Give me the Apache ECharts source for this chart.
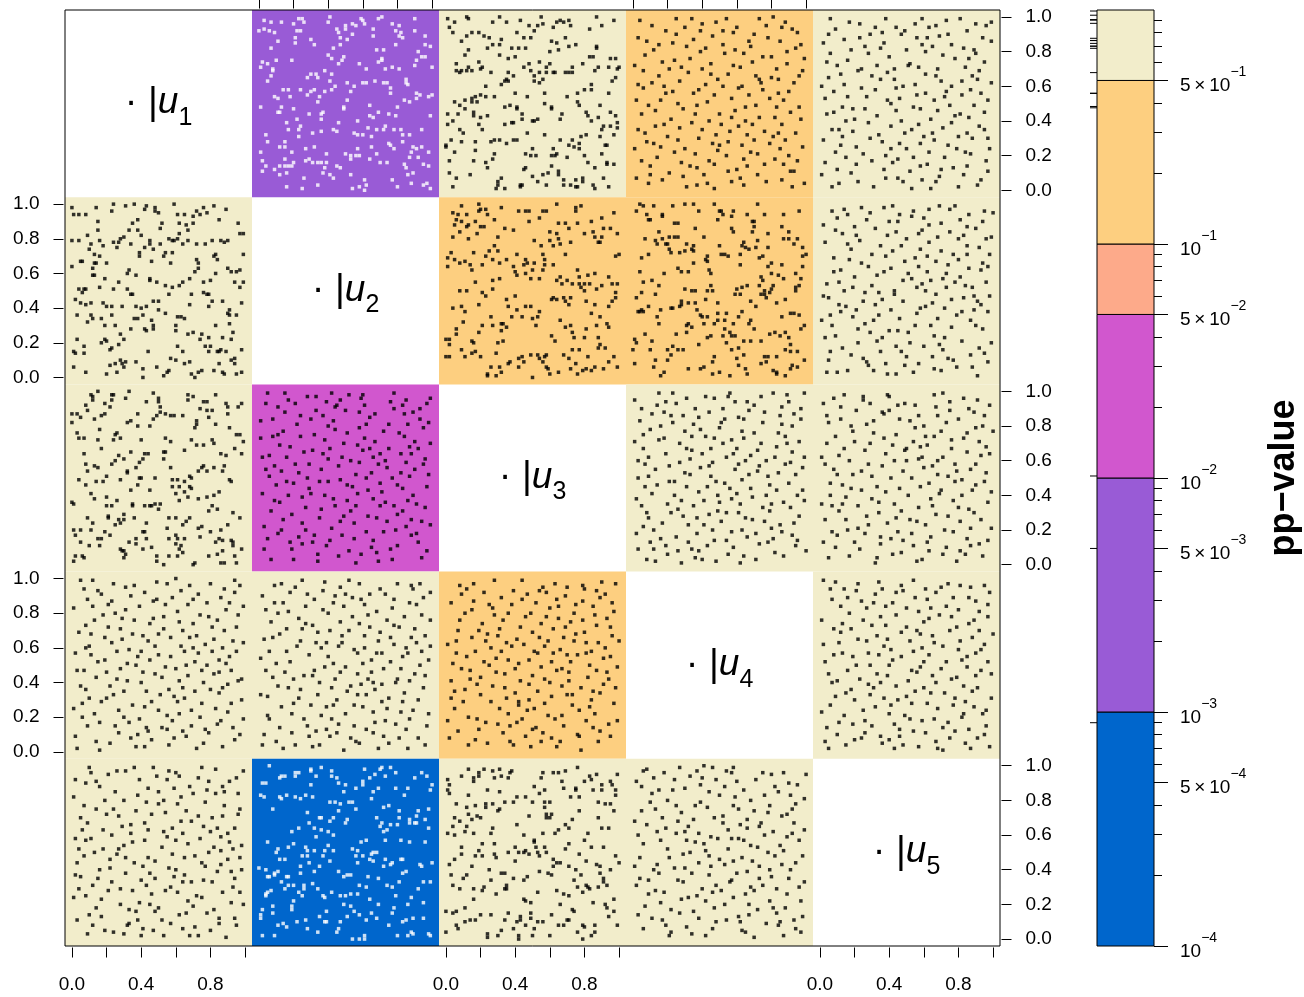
<!DOCTYPE html>
<html>
<head>
<meta charset="utf-8">
<script src="https://cdn.jsdelivr.net/npm/echarts@6/dist/echarts.min.js"></script>
<style>
  html, body { margin: 0; padding: 0; background: #ffffff; }
  #chart { width: 1304px; height: 997px; }
</style>
</head>
<body>
<div id="chart"></div>
<script>
// ---- data -----------------------------------------------------------------
const varIndex = ['1', '2', '3', '4', '5'];

// p-value of the test shown in each off-diagonal panel (row i, column j)
const pValues = [
  [null,   0.0050,  0.99,  0.441, 0.95 ],
  [0.91,   null,    0.387, 0.44,  0.877],
  [0.757,  0.0102,  null,  0.74,  0.72 ],
  [0.70,   0.686,   0.382, null,  0.54 ],
  [0.741,  0.00090, 0.701, 0.905, null ]
];

// colour classes of the p-value scale
const breaks = [1e-4, 1e-3, 1e-2, 5e-2, 1e-1, 5e-1, 1];
const bandColors = ['#0066CC', '#995BD6', '#D157CE', '#FDAA8A', '#FDCF80', '#F2EDCB'];

const panelTicks = [0, 0.2, 0.4, 0.6, 0.8, 1.0];
const sideLabels = [0, 0.2, 0.4, 0.6, 0.8, 1.0];
const bottomLabels = [0, 0.4, 0.8];
const scaleMajor = [1e-4, 5e-4, 1e-3, 5e-3, 1e-2, 5e-2, 1e-1, 5e-1];
const scaleMinor = [2e-4, 3e-4, 4e-4, 6e-4, 7e-4, 8e-4, 9e-4,
                    2e-3, 3e-3, 4e-3, 6e-3, 7e-3, 8e-3, 9e-3,
                    2e-2, 3e-2, 4e-2, 6e-2, 7e-2, 8e-2, 9e-2,
                    2e-1, 3e-1, 4e-1, 6e-1, 7e-1, 8e-1, 9e-1];

// pseudo-observations per panel, in hundredths: x0,y0, x1,y1, ...
const pts12 = [3,98, 7,97, 13,97, 20,96, 23,99, 25,99, 26,97, 41,100, 40,97, 59,99, 60,98, 61,96, 69,99, 71,100, 90,99, 77,96, 81,95, 50,95, 54,96, 56,95, 45,93, 50,93, 66,93, 0,92, 3,93, 6,92, 9,91, 22,92, 24,92, 46,91, 54,90, 47,88, 51,87, 21,88, 21,85, 30,87, 32,84, 11,86, 7,82, 66,89, 79,92, 82,91, 81,89, 83,88, 90,92, 96,89, 79,84, 96,84, 99,83, 68,81, 72,81, 92,80, 94,77, 96,77, 91,75, 43,82, 47,84, 40,78, 42,76, 49,77, 48,75, 46,73, 2,74, 5,73, 10,75, 19,75, 1,71, 8,70, 8,69, 7,66, 5,63, 58,73, 62,70, 69,74, 71,76, 71,75, 73,70, 77,71, 81,70, 90,72, 100,71, 30,67, 33,67, 28,65, 34,65, 38,69, 42,67, 41,63, 44,60, 51,62, 55,60, 60,62, 62,62, 67,63, 72,62, 74,62, 76,59, 85,64, 85,62, 86,61, 14,58, 17,58, 24,58, 30,57, 32,58, 38,57, 42,58, 9,54, 11,53, 18,54, 28,55, 35,54, 34,51, 51,52, 53,57, 76,56, 91,56, 93,55, 91,53, 84,52, 87,51, 100,55, 98,54, 1,48, 13,48, 20,47, 12,45, 11,45, 29,44, 36,44, 37,45, 49,48, 49,47, 64,49, 64,43, 66,42, 69,45, 75,44, 79,43, 80,48, 99,43, 22,41, 36,41, 46,39, 57,40, 16,39, 24,37, 17,35, 23,35, 23,31, 31,33, 36,34, 43,35, 45,34, 55,33, 57,32, 60,32, 63,36, 68,35, 73,37, 72,35, 78,35, 82,35, 83,32, 87,32, 94,35, 65,31, 4,32, 5,28, 12,25, 15,28, 15,25, 19,22, 27,24, 32,25, 39,21, 50,21, 53,20, 53,18, 56,20, 58,20, 57,24, 65,25, 68,21, 64,18, 75,27, 76,26, 78,24, 83,28, 89,25, 91,24, 94,25, 88,22, 98,22, 1,22, 2,17, 4,14, 2,11, 9,12, 12,14, 15,18, 15,14, 17,14, 19,14, 16,10, 12,9, 20,16, 27,17, 29,18, 31,16, 34,16, 36,16, 39,16, 38,13, 45,14, 47,13, 37,10, 41,9, 43,7, 53,9, 61,6, 62,3, 61,0, 58,2, 54,1, 34,3, 26,7, 25,1, 16,2, 70,16, 74,16, 77,6, 80,2, 84,15, 85,13, 86,9, 89,10, 88,4, 95,3, 97,4, 99,1, 95,15, 98,14, 87,19, 92,19];
const pts13 = [1,99, 5,97, 2,94, 4,91, 12,100, 13,99, 9,86, 12,89, 15,91, 19,91, 22,89, 25,88, 27,84, 24,82, 31,84, 32,87, 27,97, 31,100, 35,97, 43,98, 48,95, 53,95, 56,96, 55,100, 51,92, 41,91, 45,88, 49,88, 38,82, 42,82, 46,82, 62,94, 64,97, 66,98, 68,97, 71,98, 72,95, 69,88, 61,86, 64,85, 71,83, 75,84, 83,93, 87,100, 90,95, 97,98, 87,83, 87,82, 13,81, 11,78, 6,73, 6,69, 8,68, 9,69, 12,69, 15,69, 13,71, 19,74, 20,70, 21,71, 26,68, 31,78, 36,76, 40,77, 36,68, 39,66, 35,64, 34,63, 36,63, 32,61, 23,60, 45,71, 48,73, 49,69, 51,66, 54,74, 54,68, 58,68, 60,73, 58,71, 60,80, 65,81, 62,68, 63,68, 69,68, 71,68, 73,68, 73,71, 79,73, 83,77, 85,77, 88,71, 86,69, 94,71, 95,76, 98,76, 99,70, 100,71, 98,65, 96,63, 84,61, 84,58, 80,58, 76,56, 94,56, 51,63, 56,64, 54,62, 57,56, 47,54, 40,56, 28,54, 23,54, 20,55, 17,54, 18,51, 15,53, 15,51, 11,52, 8,49, 5,51, 11,47, 1,44, 7,44, 16,45, 16,43, 20,42, 24,43, 19,38, 21,35, 8,35, 10,33, 1,38, 4,40, 34,48, 37,49, 41,48, 41,47, 44,44, 44,41, 50,40, 51,40, 53,41, 38,39, 39,39, 34,38, 57,50, 61,47, 61,48, 67,44, 66,41, 70,54, 76,51, 77,49, 81,45, 82,43, 84,40, 88,42, 89,49, 95,45, 98,43, 99,39, 99,36, 95,37, 91,37, 90,35, 81,32, 89,31, 97,32, 47,33, 57,32, 31,29, 39,29, 41,29, 35,27, 28,29, 26,28, 28,21, 27,18, 23,16, 24,13, 17,28, 17,23, 16,17, 14,9, 9,28, 3,29, 0,26, 0,25, 5,22, 2,17, 2,10, 6,7, 4,2, 30,5, 30,3, 29,1, 34,1, 32,7, 43,3, 43,2, 44,3, 45,12, 46,13, 46,21, 49,20, 52,20, 50,24, 50,8, 53,5, 56,9, 59,10, 58,3, 65,9, 68,6, 68,3, 72,3, 75,6, 75,2, 76,2, 79,5, 79,7, 85,3, 86,1, 94,2, 91,7, 93,16, 93,15, 97,15, 86,13, 82,16, 80,20, 90,21, 92,26, 93,26, 78,31, 77,27, 77,24, 73,29, 74,25, 71,26, 70,19, 66,29, 62,24, 64,21, 61,20, 63,20, 61,14, 65,11];
const pts14 = [58,91, 13,37, 84,64, 29,8, 71,49, 42,82, 95,17, 6,59, 50,26, 77,95, 21,70, 64,3, 36,44, 89,80, 10,14, 55,67, 97,41, 25,99, 68,22, 3,88, 47,55, 81,31, 33,76, 60,12, 16,52, 92,93, 40,35, 74,62, 8,28, 52,84, 86,6, 27,63, 65,40, 1,72, 44,17, 99,76, 19,92, 70,29, 38,58, 83,48, 12,81, 57,5, 30,24, 90,57, 48,97, 5,44, 76,15, 23,85, 62,71, 41,9, 94,33, 15,66, 67,86, 34,39, 80,77, 54,20, 2,7, 87,52, 45,73, 20,31, 73,99, 59,46, 11,95, 96,66, 37,13, 26,50, 85,24, 63,60, 7,78, 51,38, 78,88, 31,2, 93,11, 18,60, 69,74, 46,27, 3,35, 82,42, 39,92, 57,53, 14,19, 88,97, 66,32, 24,75, 99,4, 49,64, 9,49, 72,9, 35,87, 61,37, 83,70, 28,16, 53,79, 91,45, 17,6, 43,51, 75,58, 4,98, 64,18, 32,68, 97,84, 22,41, 56,34, 87,15, 12,27, 40,96, 79,53, 47,1, 68,83, 26,29, 93,62, 6,69, 50,44, 84,33, 36,21, 60,94, 15,84, 73,42, 42,61, 98,25, 29,47, 55,11, 89,73, 9,4, 71,66, 38,30, 81,100, 19,56, 63,26, 46,89, 2,52, 86,38, 33,14, 58,72, 95,91, 24,22, 67,55, 11,62, 44,40, 77,5, 30,94, 52,60, 90,20, 5,17, 75,77, 37,49, 62,7, 17,74, 84,56, 48,32, 21,10, 70,90, 40,70, 96,48, 54,99, 27,36, 66,14, 8,86, 79,27, 35,56, 59,81, 92,2, 13,46, 49,23, 73,64, 31,83, 86,94, 1,24, 57,42, 23,57, 82,18, 43,4, 65,48, 98,69, 18,38, 52,92, 76,34, 10,9, 39,80, 61,59, 88,29, 28,71, 47,15, 94,82, 7,33, 69,38, 34,99, 55,28, 80,65, 16,25, 45,67, 91,11, 25,90, 64,79, 3,61, 72,21, 37,3, 85,86];
const pts15 = [32,58, 87,21, 9,93, 64,41, 45,7, 78,76, 19,34, 56,88, 97,52, 3,16, 70,63, 38,99, 26,47, 83,9, 51,72, 14,61, 92,37, 41,24, 67,95, 6,79, 58,14, 75,49, 22,5, 99,86, 47,40, 35,82, 88,66, 12,26, 61,56, 80,31, 29,90, 53,1, 95,74, 4,44, 72,19, 43,64, 17,97, 66,29, 85,92, 37,12, 8,57, 59,84, 91,3, 24,70, 49,33, 76,60, 2,85, 69,8, 33,43, 96,17, 55,96, 13,48, 82,55, 40,77, 63,22, 21,15, 89,81, 46,53, 7,35, 74,90, 30,66, 57,38, 99,62, 18,81, 68,46, 36,28, 52,11, 86,42, 10,72, 44,94, 79,24, 27,54, 61,67, 93,6, 1,9, 65,83, 39,52, 84,71, 15,40, 54,19, 73,98, 31,2, 97,30, 48,60, 23,88, 71,36, 5,65, 58,47, 90,96, 42,16, 77,13, 16,75, 62,88, 34,32, 87,58, 11,4, 50,81, 25,21, 95,45, 68,70, 3,53, 44,46, 81,99, 28,79, 60,31, 9,22, 73,57, 38,7, 92,69, 20,41, 55,61, 85,14, 47,90, 14,87, 67,5, 35,64, 98,24, 6,99, 76,39, 29,30, 52,73, 83,82, 41,50, 18,10, 63,94, 89,49, 12,67, 58,27, 71,78, 2,29, 45,18, 94,88, 24,59, 80,2, 37,85, 66,52, 8,45, 53,35, 91,64, 32,94, 74,26, 16,54, 59,6, 86,76, 43,70, 21,25, 97,11, 65,33, 4,74, 49,92, 78,43, 30,17, 56,55, 11,35, 88,30, 39,68, 70,12, 23,96, 61,80, 93,56, 7,2, 46,27, 82,63, 26,83, 54,48, 99,97, 15,19, 69,89, 41,37, 84,22, 33,72, 1,60, 62,15, 76,84, 19,47, 48,5, 95,35, 36,91, 57,71, 10,12, 72,54, 28,39, 90,79, 44,59, 64,1, 5,90, 81,44, 50,24, 22,69, 67,66, 38,20, 96,95, 13,31, 59,99, 85,33];
const pts21 = [0,98, 14,98, 24,100, 23,96, 31,99, 36,100, 43,99, 42,97, 48,98, 48,96, 50,95, 59,100, 72,96, 76,98, 82,99, 89,97, 74,94, 78,95, 61,94, 65,94, 70,93, 1,94, 4,94, 8,94, 15,90, 38,91, 35,89, 52,89, 51,86, 62,89, 66,88, 70,89, 67,85, 85,91, 96,89, 15,85, 33,85, 38,85, 62,83, 99,83, 97,83, 9,82, 40,82, 0,79, 4,79, 11,77, 16,79, 18,76, 24,78, 27,78, 28,80, 30,81, 34,77, 45,79, 51,77, 56,80, 58,79, 59,79, 61,80, 64,77, 67,79, 72,77, 77,77, 81,79, 86,79, 88,78, 90,79, 10,74, 26,75, 42,75, 45,77, 47,74, 39,72, 39,70, 53,70, 54,72, 58,72, 13,71, 16,70, 83,71, 84,68, 82,70, 99,71, 72,68, 73,66, 73,63, 71,61, 5,67, 6,67, 14,66, 13,66, 20,66, 12,63, 46,67, 57,66, 0,64, 32,60, 33,62, 37,59, 12,59, 13,59, 19,57, 83,60, 90,63, 92,61, 95,61, 97,62, 45,57, 45,56, 49,55, 54,53, 58,52, 62,53, 64,55, 68,57, 76,55, 80,56, 94,55, 99,55, 97,52, 27,55, 16,52, 4,51, 7,51, 8,51, 6,49, 24,51, 32,51, 35,48, 34,48, 56,48, 69,48, 76,49, 78,48, 79,48, 2,45, 5,43, 8,42, 11,43, 18,43, 20,41, 23,41, 29,41, 37,41, 40,40, 43,41, 47,44, 50,44, 50,39, 54,37, 68,42, 79,41, 81,44, 87,44, 91,39, 98,43, 41,36, 36,34, 38,34, 3,36, 11,36, 12,34, 17,34, 23,36, 9,32, 19,30, 25,30, 46,33, 47,30, 47,28, 61,35, 63,35, 65,34, 60,30, 60,27, 83,30, 91,36, 95,36, 91,31, 90,37, 34,28, 42,28, 43,27, 67,25, 70,26, 75,25, 93,26, 28,25, 30,22, 3,22, 17,20, 19,22, 20,21, 23,17, 22,16, 27,19, 7,18, 7,14, 1,15, 2,14, 44,15, 61,18, 64,15, 74,22, 79,23, 77,18, 80,18, 87,23, 92,22, 79,15, 84,15, 85,15, 86,16, 89,15, 98,16, 57,11, 60,10, 65,8, 68,9, 28,10, 29,8, 31,9, 25,8, 37,9, 22,7, 30,6, 41,5, 49,6, 1,6, 8,3, 20,2, 26,3, 41,0, 53,1, 55,3, 56,4, 69,2, 71,0, 73,3, 75,4, 82,4, 85,8, 87,3, 88,2, 92,10, 94,11, 94,8, 95,2, 98,3];
const pts23 = [9,99, 19,100, 19,96, 20,97, 23,97, 4,95, 7,94, 12,94, 6,91, 5,88, 9,90, 12,87, 13,88, 17,90, 20,87, 22,87, 24,94, 28,91, 32,98, 4,81, 8,84, 13,80, 18,83, 30,81, 34,86, 39,85, 42,96, 46,96, 48,96, 48,90, 54,92, 56,96, 58,96, 64,100, 75,98, 75,96, 78,99, 90,92, 97,95, 65,89, 69,89, 76,89, 84,90, 71,86, 60,84, 64,83, 80,83, 85,84, 91,86, 95,86, 99,83, 86,81, 90,81, 88,78, 89,78, 72,78, 65,80, 66,77, 60,79, 62,76, 51,79, 55,76, 28,76, 25,73, 30,73, 16,72, 3,72, 1,69, 1,64, 5,68, 8,66, 11,67, 14,65, 15,62, 21,65, 23,70, 27,68, 31,66, 35,68, 39,64, 41,71, 40,61, 41,59, 45,65, 46,68, 47,66, 51,66, 50,62, 46,60, 49,57, 54,57, 56,71, 57,68, 57,65, 62,65, 56,62, 69,71, 76,62, 64,56, 66,58, 67,54, 70,56, 73,54, 77,58, 77,54, 78,52, 80,50, 80,54, 82,59, 83,54, 86,60, 87,51, 90,53, 94,58, 96,54, 99,54, 98,70, 100,71, 98,49, 98,46, 96,44, 94,41, 93,31, 94,29, 89,35, 84,37, 86,42, 81,44, 81,28, 87,30, 80,23, 73,26, 74,23, 72,30, 66,33, 69,29, 71,42, 72,46, 68,46, 62,46, 61,45, 64,45, 69,44, 54,38, 52,30, 50,34, 53,35, 46,41, 49,41, 44,35, 41,39, 40,47, 35,45, 36,41, 38,35, 33,31, 35,29, 32,27, 26,35, 27,30, 21,30, 19,26, 15,21, 16,20, 10,32, 9,41, 11,38, 4,40, 19,42, 8,50, 12,50, 21,49, 23,47, 27,51, 27,56, 31,57, 17,55, 6,28, 6,25, 0,22, 2,22, 2,19, 9,16, 0,12, 2,12, 11,12, 15,14, 17,15, 20,12, 29,14, 30,20, 33,21, 32,31, 26,6, 24,2, 24,1, 29,1, 31,6, 32,3, 36,8, 37,9, 42,11, 42,6, 44,12, 45,9, 50,0, 49,13, 53,13, 54,11, 56,9, 57,12, 58,13, 58,6, 59,5, 60,2, 65,3, 68,13, 71,11, 73,16, 77,16, 75,8, 72,5, 76,2, 79,4, 81,5, 84,4, 86,6, 91,5, 82,12, 88,17, 89,19, 92,17, 88,23, 94,9, 97,12, 99,6, 61,24, 63,21];
const pts24 = [4,100, 6,99, 12,99, 2,96, 8,94, 9,91, 10,91, 17,94, 17,93, 23,99, 30,100, 35,100, 38,96, 47,100, 50,96, 51,96, 52,94, 57,93, 58,96, 49,91, 66,94, 72,100, 70,90, 76,94, 87,94, 96,96, 86,87, 90,84, 87,80, 90,80, 95,80, 93,77, 98,75, 98,70, 100,71, 98,64, 94,60, 97,57, 96,53, 94,52, 94,50, 88,45, 87,57, 84,59, 86,65, 80,66, 80,60, 78,64, 74,58, 75,56, 73,53, 81,53, 80,51, 79,49, 76,50, 76,48, 77,46, 83,43, 71,41, 68,44, 74,48, 66,53, 63,52, 60,51, 59,48, 62,48, 73,69, 75,70, 78,75, 72,79, 71,75, 67,74, 65,75, 64,78, 63,76, 62,65, 62,71, 69,84, 70,87, 69,90, 78,83, 58,84, 57,86, 50,76, 51,71, 53,71, 55,70, 43,70, 42,68, 43,67, 44,62, 45,60, 45,53, 46,50, 43,50, 49,43, 42,45, 36,50, 34,50, 35,66, 30,51, 28,61, 26,63, 32,61, 30,73, 34,74, 35,73, 27,72, 22,72, 21,74, 20,77, 24,81, 26,81, 21,81, 17,80, 13,79, 14,77, 19,77, 15,84, 24,89, 26,89, 36,86, 41,81, 31,77, 35,76, 9,71, 5,69, 7,80, 4,61, 2,46, 5,49, 6,55, 11,56, 13,48, 15,53, 18,60, 9,41, 4,38, 5,39, 3,38, 6,38, 16,39, 22,40, 23,40, 27,41, 28,42, 28,44, 32,43, 36,43, 37,39, 39,36, 40,35, 41,31, 43,35, 49,37, 49,33, 54,37, 53,33, 58,31, 53,28, 52,24, 54,20, 56,26, 57,24, 61,35, 63,38, 67,31, 68,33, 70,28, 64,21, 68,21, 59,24, 47,31, 45,24, 43,23, 38,19, 32,31, 31,30, 34,29, 31,26, 25,25, 26,16, 29,16, 23,18, 20,16, 22,13, 15,31, 14,35, 11,21, 10,16, 7,25, 1,22, 2,20, 0,16, 1,8, 13,10, 12,6, 16,1, 18,3, 20,10, 32,5, 39,5, 41,6, 46,9, 46,2, 50,3, 56,1, 60,11, 61,7, 65,5, 66,2, 74,8, 77,9, 78,12, 81,4, 83,3, 83,2, 88,1, 91,5, 92,7, 95,6, 99,10, 88,16, 91,15, 95,15, 91,19, 90,23, 85,24, 88,26, 82,26, 97,28, 99,30, 96,36, 91,37, 93,37, 86,35, 83,12, 76,12, 64,13, 61,17, 57,16, 47,12, 79,25, 74,21];
const pts25 = [47,15, 8,69, 91,44, 63,88, 26,31, 79,6, 35,76, 56,52, 14,97, 72,23, 99,81, 41,39, 5,10, 86,63, 20,58, 68,34, 53,93, 31,4, 94,28, 11,42, 77,71, 44,84, 60,18, 2,88, 88,52, 37,61, 75,97, 22,20, 58,40, 16,77, 97,9, 49,67, 82,38, 29,95, 65,12, 7,30, 43,50, 90,86, 33,21, 71,57, 12,62, 54,3, 85,76, 25,44, 62,70, 96,55, 40,90, 18,13, 76,45, 50,80, 4,54, 69,99, 34,36, 92,17, 57,64, 28,7, 81,91, 45,27, 13,83, 67,48, 98,71, 37,98, 21,39, 74,11, 59,85, 9,24, 87,33, 42,73, 64,56, 30,53, 95,96, 16,4, 55,30, 80,68, 3,78, 46,94, 71,16, 24,66, 89,47, 38,8, 61,41, 10,92, 83,82, 51,60, 19,35, 93,62, 66,24, 32,86, 6,15, 78,55, 44,2, 58,74, 97,38, 23,79, 70,89, 36,45, 87,13, 14,50, 52,20, 74,65, 1,33, 63,97, 40,27, 84,53, 27,91, 57,8, 92,75, 17,68, 48,44, 79,36, 10,3, 68,81, 33,59, 99,20, 42,99, 5,46, 76,29, 55,69, 25,11, 86,94, 61,50, 20,87, 46,34, 94,66, 30,71, 70,4, 11,55, 82,21, 39,82, 65,43, 7,96, 53,57, 89,39, 22,28, 60,92, 96,80, 35,15, 73,60, 15,41, 49,7, 85,87, 28,64, 64,30, 3,23, 78,99, 43,48, 91,1, 18,74, 56,37, 75,84, 32,42, 98,47, 9,85, 67,67, 50,12, 24,98, 81,58, 36,23, 94,90, 13,17, 59,54, 72,40, 41,63, 88,6, 19,52, 63,78, 4,3, 45,90, 83,46, 29,26, 97,64, 54,96, 12,38, 69,19, 38,70, 90,30, 26,49, 57,83, 8,61, 77,10, 47,76, 100,95, 31,33, 66,5, 2,47, 85,71, 44,18, 16,94, 73,52, 39,2, 62,61, 93,42, 21,82, 51,26, 80,80, 34,49, 6,36, 70,73, 48,56, 95,14, 27,9];
const pts31 = [11,98, 12,97, 15,100, 12,95, 23,98, 24,98, 23,95, 33,100, 31,96, 19,93, 22,91, 8,92, 9,89, 0,87, 3,87, 5,85, 0,82, 13,84, 17,86, 19,87, 47,99, 50,96, 50,94, 43,94, 51,91, 51,88, 49,86, 47,84, 54,87, 57,86, 59,86, 64,86, 38,87, 34,83, 32,82, 38,80, 45,80, 67,98, 70,97, 67,95, 83,98, 76,94, 78,94, 74,90, 78,89, 81,89, 72,83, 72,81, 71,79, 79,85, 83,81, 90,87, 89,93, 90,91, 96,91, 98,93, 91,79, 16,78, 3,76, 4,73, 7,73, 26,76, 25,75, 28,73, 24,72, 15,72, 40,72, 54,73, 57,71, 69,72, 72,69, 76,69, 81,72, 82,70, 95,75, 97,75, 99,71, 17,67, 7,64, 27,63, 30,61, 34,65, 42,64, 44,64, 53,65, 54,65, 65,66, 53,61, 41,61, 86,64, 89,63, 94,67, 98,64, 8,58, 13,57, 15,56, 23,58, 25,60, 39,59, 37,56, 32,54, 32,53, 9,54, 57,56, 73,54, 75,56, 76,57, 78,54, 82,56, 87,54, 88,57, 4,49, 8,46, 14,48, 18,48, 20,51, 28,49, 39,50, 40,50, 48,50, 58,49, 61,49, 65,48, 68,51, 69,50, 91,49, 92,48, 38,46, 34,43, 45,43, 58,45, 62,45, 65,42, 68,45, 69,44, 11,41, 13,38, 20,39, 26,37, 35,34, 35,35, 42,34, 45,34, 46,34, 48,35, 51,35, 50,32, 60,41, 62,37, 67,39, 73,38, 78,39, 82,40, 85,42, 0,36, 1,35, 20,34, 23,34, 30,29, 21,28, 21,27, 9,27, 12,24, 27,26, 28,24, 30,26, 25,23, 36,27, 43,24, 56,27, 60,27, 66,25, 68,27, 64,23, 79,31, 81,34, 84,32, 93,30, 97,27, 90,23, 1,20, 5,20, 2,17, 11,20, 19,19, 22,17, 5,13, 10,11, 15,15, 17,15, 16,11, 28,9, 30,8, 29,8, 31,6, 33,13, 37,15, 37,12, 41,9, 41,19, 42,19, 43,15, 46,10, 55,21, 56,15, 60,17, 61,15, 65,15, 60,12, 63,11, 62,9, 64,7, 61,5, 73,21, 75,22, 80,19, 86,20, 74,16, 83,13, 85,15, 87,14, 92,14, 93,13, 93,11, 98,9, 94,5, 87,8, 84,6, 79,5, 70,0, 71,1, 86,1, 88,1, 95,1, 49,2, 53,0, 56,5, 49,5, 2,5, 1,2, 6,5, 7,4, 30,4];
const pts32 = [37,86, 72,19, 13,54, 90,71, 51,37, 4,93, 66,62, 25,12, 83,44, 44,78, 97,8, 19,29, 59,96, 31,66, 78,34, 8,74, 55,15, 93,90, 40,48, 69,2, 22,81, 85,59, 47,25, 2,41, 64,85, 34,6, 98,52, 17,95, 75,67, 53,60, 11,18, 88,26, 29,44, 61,73, 42,99, 80,11, 6,63, 70,47, 36,32, 95,79, 15,88, 57,41, 83,92, 27,20, 49,70, 3,9, 74,56, 39,94, 91,35, 21,58, 63,28, 10,46, 86,81, 46,5, 32,75, 78,99, 56,52, 18,68, 99,23, 41,14, 67,87, 7,31, 82,64, 50,89, 25,39, 94,4, 60,66, 14,77, 73,36, 36,55, 88,17, 45,92, 1,83, 65,10, 28,50, 84,74, 53,31, 9,57, 76,94, 42,21, 96,61, 20,3, 58,79, 33,97, 71,42, 12,36, 89,88, 48,62, 23,16, 62,50, 5,99, 80,29, 38,72, 97,45, 16,48, 68,7, 44,34, 87,68, 30,84, 55,24, 75,81, 3,22, 92,13, 40,61, 60,98, 19,9, 82,53, 51,76, 26,65, 99,96, 66,38, 11,91, 35,27, 77,3, 47,49, 86,37, 6,51, 57,69, 31,13, 93,84, 69,58, 17,40, 44,91, 79,20, 24,74, 63,43, 2,62, 90,55, 52,8, 38,40, 72,77, 14,26, 85,95, 48,17, 29,58, 96,33, 58,88, 8,84, 74,25, 41,67, 99,70, 21,93, 65,53, 34,2, 80,46, 12,69, 54,45, 91,18, 43,83, 70,64, 27,33, 5,15, 61,92, 87,51, 16,62, 49,28, 76,9, 33,89, 95,58, 56,34, 20,47, 67,71, 9,37, 84,87, 39,11, 62,19, 28,97, 73,60, 1,73, 46,57, 89,40, 25,24, 59,6, 98,82, 15,99, 68,27, 37,64, 81,76, 51,46, 7,3, 94,25, 43,38, 78,90, 23,53, 64,67, 32,17, 97,93, 11,75, 56,1, 85,22, 40,80, 70,34, 18,13, 52,98, 88,64, 30,41, 62,81, 4,55, 77,50, 47,95, 35,48, 92,67, 13,20, 66,14, 83,31, 24,86, 58,59];
const pts34 = [73,12, 18,88, 45,51, 91,33, 6,67, 59,94, 32,23, 84,76, 27,59, 64,5, 11,41, 97,90, 50,79, 38,8, 79,46, 2,18, 68,63, 23,99, 88,58, 54,30, 15,72, 41,37, 95,14, 61,85, 8,3, 34,66, 76,25, 47,96, 21,48, 86,91, 57,19, 4,83, 69,39, 30,77, 99,62, 43,11, 13,55, 82,7, 52,70, 26,32, 92,80, 36,90, 63,49, 9,27, 74,97, 48,2, 19,64, 87,36, 39,56, 66,16, 1,95, 56,44, 29,86, 80,21, 12,9, 94,52, 42,74, 71,3, 24,40, 60,67, 89,98, 5,34, 51,25, 77,60, 16,15, 35,81, 98,43, 46,59, 67,89, 20,6, 83,68, 31,45, 58,10, 10,78, 72,54, 44,29, 93,24, 25,93, 62,35, 3,50, 85,86, 53,84, 37,18, 78,13, 14,92, 49,40, 96,71, 28,1, 70,76, 7,58, 40,64, 65,27, 22,30, 90,47, 55,97, 33,52, 81,99, 17,24, 61,58, 100,8, 47,14, 75,82, 11,87, 38,42, 86,19, 27,70, 54,62, 2,38, 68,44, 92,65, 19,11, 44,88, 79,31, 6,75, 57,72, 31,96, 73,57, 96,28, 36,4, 63,20, 9,62, 50,36, 84,53, 23,82, 41,23, 88,74, 14,46, 66,94, 32,13, 77,40, 3,9, 59,55, 97,84, 45,67, 20,35, 71,18, 52,90, 87,5, 30,53, 64,73, 8,30, 42,97, 82,62, 16,80, 55,6, 99,37, 35,34, 74,70, 25,16, 60,41, 1,71, 48,48, 90,94, 13,2, 69,26, 39,78, 94,11, 58,64, 21,57, 83,43, 46,20, 5,90, 76,88, 33,61, 62,1, 89,70, 28,37, 51,82, 12,20, 67,52, 43,45, 98,56, 18,73, 80,35, 37,27, 56,99, 7,45, 72,66, 26,8, 93,87, 49,31, 15,99, 64,84, 85,23, 34,74, 3,60, 78,51, 54,14, 24,48, 91,59, 40,3, 61,30, 10,13, 70,92, 47,73, 95,40, 22,86, 57,38, 81,15, 31,67, 86,81, 44,57, 6,22, 65,60, 99,99, 29,28, 53,47, 19,94, 75,33, 38,85, 92,17, 9,51, 63,77, 34,9];
const pts35 = [12,91, 57,33, 84,6, 29,70, 95,48, 3,26, 46,84, 71,62, 20,13, 66,98, 38,42, 90,79, 8,55, 53,18, 77,37, 25,95, 61,74, 99,21, 15,39, 43,60, 86,90, 33,4, 74,51, 5,82, 50,67, 92,12, 27,28, 68,86, 40,97, 81,25, 11,63, 58,45, 96,68, 35,16, 63,8, 19,77, 87,55, 47,31, 2,93, 72,20, 30,51, 55,92, 83,73, 9,10, 44,75, 97,36, 24,43, 65,57, 14,98, 79,2, 51,40, 36,88, 89,30, 6,47, 60,80, 22,21, 75,94, 42,6, 93,63, 17,60, 69,41, 31,83, 85,15, 54,71, 1,35, 78,48, 39,24, 62,13, 26,66, 98,92, 48,54, 10,17, 70,77, 34,36, 88,43, 56,2, 21,89, 80,84, 45,19, 4,70, 67,29, 94,5, 28,58, 59,62, 13,46, 83,96, 37,73, 73,10, 49,93, 7,34, 90,58, 32,1, 64,38, 18,80, 52,26, 100,77, 41,50, 76,67, 23,9, 57,86, 3,58, 87,21, 46,44, 68,52, 15,26, 95,86, 38,64, 61,23, 29,93, 82,40, 9,74, 54,11, 71,99, 43,35, 92,71, 19,52, 66,74, 35,12, 78,58, 5,4, 50,60, 86,32, 27,81, 63,47, 11,31, 97,14, 40,89, 74,28, 58,68, 24,54, 89,88, 47,7, 1,62, 70,43, 33,45, 96,53, 16,20, 55,79, 81,8, 42,69, 8,96, 64,16, 30,38, 91,95, 53,50, 20,71, 77,19, 36,57, 99,42, 12,84, 59,3, 85,65, 26,18, 67,91, 44,27, 6,40, 73,82, 39,98, 93,26, 17,5, 60,56, 31,76, 82,49, 48,14, 2,13, 76,72, 22,34, 94,80, 57,61, 14,67, 65,34, 37,87, 87,11, 52,83, 10,52, 71,6, 28,23, 98,64, 45,92, 80,33, 4,86, 62,69, 34,30, 90,46, 18,44, 56,25, 75,89, 41,15, 7,19, 68,60, 25,97, 85,76, 49,66, 13,35, 79,54];
const pts41 = [7,94, 62,41, 33,17, 88,70, 15,52, 49,88, 76,5, 24,33, 95,58, 41,67, 2,9, 69,24, 55,97, 82,45, 18,79, 37,3, 91,86, 10,61, 64,12, 28,48, 73,91, 46,29, 99,19, 21,72, 57,55, 85,34, 5,38, 39,84, 68,66, 31,95, 94,7, 13,22, 52,43, 79,78, 43,14, 26,58, 61,81, 89,51, 8,73, 71,35, 35,27, 97,96, 48,61, 16,1, 66,50, 84,16, 23,87, 53,71, 3,47, 77,62, 40,40, 92,28, 12,99, 59,8, 29,65, 86,89, 45,53, 74,20, 20,31, 63,93, 98,42, 36,76, 9,15, 56,36, 81,72, 27,11, 67,44, 1,83, 50,24, 87,60, 42,92, 14,43, 72,2, 32,51, 96,79, 58,18, 19,66, 80,97, 47,77, 6,28, 65,58, 38,10, 90,39, 25,80, 54,85, 75,47, 11,56, 61,29, 34,90, 93,14, 44,64, 70,74, 22,5, 85,53, 4,69, 51,33, 78,86, 30,20, 99,63, 17,91, 60,48, 40,58, 83,25, 8,36, 68,96, 26,42, 95,72, 55,13, 13,76, 73,57, 46,7, 89,82, 35,68, 64,37, 2,57, 79,11, 24,97, 57,66, 92,47, 42,26, 16,17, 70,88, 48,45, 87,3, 31,82, 62,22, 9,88, 76,40, 37,50, 98,30, 53,78, 20,46, 66,9, 82,65, 43,35, 5,99, 71,52, 28,71, 94,92, 59,32, 14,6, 49,98, 86,18, 33,59, 74,79, 1,25, 63,61, 39,19, 91,55, 23,63, 56,4, 80,36, 12,84, 45,74, 97,10, 30,35, 67,85, 19,53, 52,14, 84,76, 36,96, 7,47, 75,28, 58,89, 27,24, 93,64, 41,46, 11,68, 69,15, 50,56, 88,94, 22,38, 64,70, 3,2, 78,50, 34,8, 96,41, 47,87, 17,29, 72,67, 55,21, 85,46, 29,77, 60,100, 8,60, 44,12, 90,23, 38,55, 65,31, 15,93, 81,58, 50,68, 25,15, 99,84, 62,75, 32,41, 77,13, 6,20, 54,49, 87,37, 21,85, 42,3, 70,60, 10,31, 94,99];
const pts42 = [14,86, 71,29, 39,63, 92,8, 26,44, 58,97, 83,55, 5,21, 47,75, 66,11, 31,3, 96,67, 18,52, 53,38, 78,88, 9,96, 42,19, 87,41, 61,60, 23,77, 75,5, 34,33, 99,92, 50,49, 12,14, 68,81, 29,56, 89,24, 44,90, 3,65, 63,42, 81,72, 20,28, 56,6, 95,37, 37,82, 8,43, 73,18, 48,63, 25,99, 86,57, 60,26, 16,71, 41,9, 91,85, 32,47, 70,94, 1,33, 54,78, 79,40, 21,4, 65,53, 97,15, 45,30, 11,80, 76,66, 36,21, 88,96, 57,45, 28,91, 6,58, 69,2, 52,70, 93,50, 17,37, 43,86, 82,23, 24,64, 62,13, 38,98, 99,61, 13,26, 74,76, 49,1, 84,34, 31,73, 59,88, 4,47, 67,36, 40,55, 90,71, 19,11, 55,27, 78,62, 35,40, 2,90, 72,48, 46,16, 94,79, 27,84, 61,67, 10,6, 85,13, 43,51, 64,91, 22,61, 51,35, 96,44, 33,12, 80,97, 7,75, 58,74, 75,31, 39,26, 15,46, 87,86, 47,95, 68,57, 26,19, 98,22, 53,8, 18,92, 82,48, 34,69, 63,79, 5,32, 44,42, 91,63, 29,9, 71,39, 57,57, 12,68, 79,16, 37,93, 66,23, 3,10, 49,84, 86,2, 24,36, 60,51, 95,89, 41,70, 16,58, 73,91, 55,15, 30,27, 88,66, 9,86, 65,46, 46,61, 81,8, 20,42, 98,53, 35,4, 70,69, 50,22, 13,97, 77,83, 42,37, 92,30, 27,74, 62,33, 6,19, 84,78, 38,49, 54,89, 1,54, 74,25, 23,31, 96,4, 48,67, 32,88, 67,17, 85,60, 11,38, 58,5, 40,80, 90,45, 17,81, 71,57, 52,99, 28,15, 80,42, 45,11, 8,66, 64,72, 36,60, 99,76, 57,33, 21,95, 76,52, 43,27, 93,97, 14,2, 69,64, 31,44, 87,19, 50,91, 4,82, 59,39, 25,71, 83,29, 39,13, 94,58, 61,85, 19,22, 72,9, 47,46, 10,51, 89,94, 33,63, 66,40, 55,59, 2,4, 78,73];
const pts43 = [9,91, 64,47, 30,16, 87,73, 17,58, 52,86, 77,9, 40,34, 95,55, 24,68, 59,21, 3,41, 70,95, 45,62, 84,30, 13,4, 36,80, 99,18, 55,74, 20,43, 67,38, 89,89, 5,25, 48,53, 74,64, 28,99, 61,8, 93,46, 15,82, 42,27, 81,57, 33,11, 58,92, 7,70, 73,33, 50,44, 97,81, 22,52, 65,77, 37,6, 86,22, 11,36, 54,66, 79,96, 26,29, 68,15, 1,62, 44,88, 91,39, 31,71, 62,57, 18,19, 83,50, 49,3, 75,85, 38,61, 96,67, 12,94, 57,28, 71,41, 25,85, 88,6, 46,78, 4,51, 63,97, 34,45, 80,69, 19,13, 53,35, 92,91, 41,17, 66,59, 8,76, 77,24, 29,54, 98,37, 56,11, 14,47, 85,84, 39,93, 69,72, 2,8, 47,24, 82,43, 23,64, 60,83, 35,31, 94,16, 51,58, 16,97, 72,52, 43,72, 88,63, 27,38, 64,3, 10,29, 79,87, 55,49, 32,89, 97,28, 6,57, 76,10, 48,39, 21,74, 68,66, 90,98, 40,48, 13,20, 59,64, 85,35, 36,22, 74,80, 3,86, 52,14, 95,72, 26,60, 61,32, 44,99, 81,18, 18,39, 70,56, 33,76, 92,60, 57,42, 7,12, 87,93, 42,51, 65,84, 24,5, 99,49, 50,69, 15,66, 78,37, 38,85, 63,19, 29,46, 84,58, 9,48, 54,93, 73,27, 46,9, 96,86, 20,33, 67,48, 35,63, 89,12, 58,78, 1,18, 80,94, 43,41, 11,80, 75,68, 31,25, 94,42, 53,57, 22,92, 66,6, 86,79, 48,30, 5,35, 62,71, 37,15, 100,64, 27,83, 71,46, 17,7, 56,95, 83,26, 41,65, 12,55, 69,90, 34,37, 91,54, 49,80, 78,1, 25,50, 60,40, 8,96, 95,9, 44,19, 72,75, 19,70, 87,47, 51,25, 32,58, 64,88, 3,31, 81,63, 39,4, 57,61, 93,77, 23,17, 70,33, 47,91, 14,42, 85,14, 30,67, 61,52, 98,97, 6,64, 76,56, 42,29, 55,6, 28,79, 89,34, 16,87, 67,21, 36,53, 79,76, 50,13];
const pts45 = [21,93, 76,42, 4,14, 58,68, 37,31, 90,87, 13,57, 67,6, 44,79, 96,24, 29,50, 81,96, 52,19, 8,71, 71,61, 35,9, 99,45, 18,36, 62,88, 47,55, 86,13, 25,76, 55,35, 2,99, 79,72, 40,22, 93,59, 15,4, 65,44, 32,91, 84,29, 10,41, 50,83, 74,17, 27,64, 97,78, 43,2, 60,52, 6,27, 88,66, 38,73, 70,95, 19,16, 56,46, 82,53, 31,37, 95,10, 48,93, 12,84, 68,25, 41,59, 91,37, 24,8, 63,77, 3,52, 77,89, 53,28, 33,67, 87,2, 16,47, 72,34, 46,13, 98,92, 27,83, 59,60, 9,32, 80,82, 39,44, 66,19, 22,97, 92,70, 51,41, 1,76, 75,8, 42,86, 85,49, 14,21, 61,94, 34,56, 95,62, 57,3, 23,42, 89,26, 47,69, 7,88, 69,79, 30,15, 83,38, 54,99, 11,63, 73,52, 40,7, 97,85, 20,30, 64,34, 36,94, 86,74, 49,21, 5,45, 78,12, 28,57, 60,75, 93,47, 17,80, 52,64, 71,1, 44,38, 99,31, 26,11, 67,92, 12,69, 82,20, 38,84, 58,49, 3,6, 90,57, 32,26, 75,70, 21,50, 55,89, 87,95, 43,16, 8,56, 65,67, 96,15, 35,78, 79,43, 14,94, 62,28, 48,4, 28,39, 92,81, 54,58, 1,23, 74,97, 39,65, 84,5, 18,71, 61,11, 45,30, 97,52, 24,87, 70,48, 10,10, 57,81, 33,45, 88,35, 50,72, 6,94, 81,64, 42,53, 68,2, 25,24, 95,96, 15,34, 63,56, 36,5, 77,27, 47,96, 2,62, 86,89, 30,73, 59,18, 91,8, 19,55, 73,84, 41,27, 100,68, 53,47, 11,17, 80,59, 34,98, 67,40, 22,65, 89,76, 46,9, 7,40, 64,83, 29,33, 94,22, 56,70, 16,89, 78,31, 37,61, 5,2, 71,14, 44,92, 85,55, 26,18, 60,37, 13,74, 98,3, 50,32, 31,86, 76,78, 40,50, 90,44, 20,7, 66,63, 9,98, 83,22, 54,12, 35,40];
const pts51 = [16,88, 69,33, 41,6, 94,64, 7,48, 55,92, 82,17, 27,71, 60,40, 3,11, 88,85, 35,56, 73,2, 12,31, 50,78, 97,27, 21,95, 64,61, 45,20, 79,50, 31,38, 9,67, 57,9, 91,91, 38,83, 75,44, 19,5, 66,74, 2,58, 48,35, 85,12, 26,97, 61,27, 93,52, 14,75, 53,62, 78,86, 33,17, 98,40, 44,47, 8,90, 70,19, 23,60, 87,71, 40,2, 59,87, 5,36, 81,33, 30,80, 67,55, 95,8, 17,23, 47,99, 76,65, 36,44, 10,14, 62,94, 90,46, 28,29, 54,73, 83,98, 1,82, 42,57, 72,25, 18,52, 96,84, 52,11, 34,66, 65,37, 11,96, 86,59, 43,31, 24,4, 77,79, 58,49, 6,63, 92,21, 39,92, 71,7, 22,41, 50,85, 84,39, 14,18, 63,68, 99,97, 30,54, 46,26, 80,62, 4,29, 56,41, 89,1, 37,74, 68,88, 20,72, 94,35, 48,16, 13,50, 74,58, 32,8, 60,96, 87,27, 25,85, 3,44, 52,53, 78,15, 42,67, 97,75, 15,35, 65,47, 36,99, 83,84, 9,3, 57,30, 29,65, 73,93, 91,56, 45,38, 19,80, 62,14, 1,24, 81,70, 39,21, 55,59, 94,12, 26,49, 70,84, 11,58, 49,94, 86,43, 33,9, 76,34, 7,77, 61,78, 98,54, 41,42, 17,13, 67,22, 53,2, 88,77, 23,33, 44,87, 80,5, 5,70, 58,64, 35,28, 95,93, 71,48, 14,91, 50,18, 84,64, 27,52, 64,6, 2,37, 46,72, 92,39, 31,97, 75,24, 18,63, 59,36, 87,88, 38,11, 8,25, 69,68, 99,20, 43,79, 22,46, 54,28, 82,53, 10,99, 66,15, 34,61, 96,72, 47,5, 77,42, 28,20, 63,82, 4,52, 85,9, 40,34, 73,71, 16,40, 56,97, 93,30, 31,47, 60,57, 12,8, 79,91, 48,45, 90,61, 24,75, 68,2, 37,16, 2,92, 86,51, 53,80, 21,28, 97,47, 64,33, 44,63, 8,57, 75,99, 30,3];
const pts52 = [6,100, 12,93, 13,94, 15,94, 21,96, 23,96, 21,94, 30,97, 30,98, 36,99, 42,97, 42,94, 45,93, 46,90, 50,89, 56,87, 60,91, 60,89, 61,98, 64,93, 67,95, 70,98, 71,99, 76,99, 79,96, 73,94, 66,85, 69,87, 79,87, 86,87, 84,83, 90,93, 94,96, 97,94, 100,89, 99,86, 2,90, 4,90, 1,83, 3,82, 12,82, 13,81, 16,83, 21,82, 24,81, 27,83, 31,82, 30,89, 33,94, 49,85, 41,79, 44,79, 47,78, 52,79, 54,79, 8,75, 28,73, 35,70, 36,70, 43,70, 41,68, 46,74, 56,75, 51,69, 50,67, 65,81, 72,76, 75,77, 68,70, 71,67, 70,65, 72,62, 74,63, 76,66, 80,66, 81,70, 81,74, 87,69, 87,67, 90,67, 91,67, 91,71, 92,74, 96,69, 98,75, 98,64, 23,64, 29,67, 32,64, 36,63, 40,62, 43,60, 19,62, 33,59, 5,56, 20,55, 17,53, 11,52, 10,50, 12,46, 15,46, 27,53, 28,51, 28,48, 25,48, 32,51, 37,48, 38,51, 40,54, 43,51, 41,45, 54,52, 57,51, 56,48, 60,48, 62,57, 59,56, 65,49, 66,50, 68,50, 64,46, 66,45, 57,44, 73,57, 82,57, 87,56, 96,56, 73,46, 72,42, 76,43, 77,44, 82,46, 83,46, 93,43, 94,42, 100,44, 29,44, 24,42, 35,42, 24,38, 0,41, 4,40, 5,36, 6,36, 9,37, 9,38, 11,39, 16,36, 17,36, 13,33, 17,31, 20,31, 26,31, 31,32, 32,39, 46,39, 49,36, 51,37, 53,37, 63,36, 69,35, 58,31, 62,30, 74,31, 77,30, 81,33, 83,38, 85,39, 92,29, 95,33, 99,33, 15,29, 23,27, 26,29, 25,25, 34,29, 37,25, 38,24, 42,27, 47,25, 50,25, 53,26, 57,26, 64,23, 69,20, 79,25, 88,24, 4,26, 5,27, 7,28, 4,25, 8,19, 2,17, 8,15, 19,19, 20,22, 19,17, 1,14, 1,12, 11,8, 14,9, 16,7, 22,10, 27,11, 28,6, 35,13, 38,10, 39,10, 39,16, 47,10, 49,20, 53,19, 55,16, 51,13, 58,14, 62,11, 65,15, 68,12, 77,15, 78,18, 86,20, 95,21, 89,12, 83,10, 85,11, 95,12, 75,8, 80,2, 86,2, 88,4, 89,3, 98,3, 99,2, 2,2, 9,2, 34,4, 45,4, 46,6, 54,0, 58,0, 61,2, 61,0];
const pts53 = [1,92, 2,89, 1,86, 2,84, 9,94, 13,98, 16,93, 16,91, 19,94, 19,96, 22,98, 27,97, 28,93, 31,98, 32,94, 36,93, 37,96, 38,97, 24,86, 31,85, 13,83, 6,78, 12,76, 17,77, 23,78, 23,76, 27,78, 31,75, 30,74, 34,79, 39,79, 41,82, 46,82, 50,79, 56,96, 55,93, 51,88, 57,86, 54,84, 62,96, 65,96, 69,97, 76,99, 67,91, 68,87, 72,82, 75,86, 75,87, 77,82, 80,91, 83,94, 84,92, 87,95, 85,86, 90,86, 90,89, 95,91, 96,89, 99,95, 98,86, 98,83, 88,79, 92,78, 95,78, 97,74, 57,79, 60,79, 57,76, 61,72, 58,70, 58,72, 60,70, 48,71, 41,66, 45,60, 51,56, 51,57, 56,61, 65,63, 63,61, 69,66, 71,64, 73,69, 77,74, 88,70, 90,64, 94,64, 82,61, 80,57, 71,55, 69,52, 77,49, 84,53, 91,53, 98,48, 100,44, 81,45, 87,43, 89,42, 66,44, 64,44, 62,42, 62,46, 52,53, 48,49, 53,50, 57,53, 54,48, 58,50, 45,50, 46,51, 42,50, 40,53, 36,50, 28,49, 29,47, 21,48, 17,48, 19,51, 21,55, 28,55, 27,64, 26,61, 16,61, 11,62, 4,65, 1,61, 5,60, 8,68, 12,65, 5,70, 13,72, 15,69, 18,71, 20,70, 9,53, 9,49, 5,46, 2,43, 15,42, 12,37, 3,37, 10,35, 4,31, 8,29, 16,29, 22,30, 21,28, 25,40, 26,34, 32,38, 34,38, 35,31, 34,29, 35,29, 39,35, 40,45, 45,34, 47,36, 45,23, 46,22, 49,21, 53,27, 54,39, 59,38, 61,37, 64,28, 68,26, 71,25, 66,20, 73,17, 74,16, 71,42, 75,40, 74,34, 76,30, 78,37, 81,31, 82,30, 83,29, 79,27, 88,30, 89,38, 91,35, 91,33, 93,31, 95,40, 97,23, 85,21, 92,20, 93,18, 97,16, 94,13, 99,8, 86,8, 80,7, 79,8, 86,4, 84,2, 76,4, 79,0, 71,11, 70,11, 68,8, 65,8, 61,14, 56,10, 53,10, 49,12, 49,15, 51,6, 50,2, 60,2, 46,8, 43,11, 43,13, 41,10, 39,6, 42,2, 42,0, 36,15, 34,11, 32,5, 30,2, 24,3, 24,1, 26,14, 20,14, 17,11, 14,11, 11,10, 7,6, 6,8, 4,15, 6,16, 0,16, 0,4, 11,18, 16,23, 29,26];
const pts54 = [11,84, 66,39, 38,12, 92,61, 4,47, 57,96, 79,22, 26,68, 48,31, 95,89, 18,27, 72,53, 33,94, 6,6, 61,75, 86,43, 45,59, 22,17, 99,33, 53,88, 14,62, 77,9, 30,41, 68,80, 2,91, 42,2, 89,72, 58,24, 20,52, 83,15, 36,77, 9,34, 64,57, 97,4, 27,99, 50,46, 74,67, 16,21, 44,85, 87,96, 31,57, 62,10, 5,74, 80,36, 40,29, 94,78, 24,41, 55,63, 70,1, 12,93, 47,18, 85,54, 35,69, 98,48, 19,8, 60,91, 29,33, 76,83, 3,60, 52,71, 89,26, 42,51, 67,14, 15,38, 81,62, 37,97, 7,19, 58,45, 93,11, 23,86, 46,6, 73,42, 32,65, 100,95, 56,33, 13,75, 84,85, 40,93, 65,26, 21,47, 78,73, 49,58, 8,98, 91,40, 28,23, 62,66, 34,3, 96,57, 17,70, 54,11, 71,92, 44,37, 88,18, 2,31, 59,82, 25,61, 82,48, 38,44, 11,12, 68,54, 90,90, 51,28, 30,87, 75,31, 6,55, 63,5, 20,80, 47,70, 97,22, 35,16, 79,77, 14,43, 57,58, 87,2, 41,100, 1,68, 69,45, 26,34, 93,67, 53,20, 18,96, 85,10, 45,42, 64,86, 9,26, 76,60, 33,50, 99,81, 22,4, 60,38, 39,79, 83,29, 5,88, 72,17, 28,73, 55,52, 94,44, 16,57, 48,92, 66,64, 37,25, 80,95, 12,40, 61,13, 31,7, 89,59, 43,76, 73,35, 3,14, 52,67, 96,30, 24,92, 67,20, 41,55, 86,71, 19,64, 58,99, 78,50, 34,38, 10,79, 63,47, 91,83, 46,27, 27,15, 70,74, 4,35, 84,8, 50,83, 38,61, 98,13, 57,34, 15,86, 75,96, 32,24, 87,51, 21,2, 66,69, 44,48, 8,66, 79,40, 54,97, 29,49, 94,6, 61,58, 13,28, 70,28, 39,89, 92,75, 48,10, 25,77, 82,88, 36,56, 1,42, 65,4, 90,35, 53,43, 17,11, 73,65, 42,22, 99,63, 58,77, 6,97, 81,18, 30,62, 46,99, 68,30];

const panelPoints = {
  '1,2': pts12, '1,3': pts13, '1,4': pts14, '1,5': pts15,
  '2,1': pts21, '2,3': pts23, '2,4': pts24, '2,5': pts25,
  '3,1': pts31, '3,2': pts32, '3,4': pts34, '3,5': pts35,
  '4,1': pts41, '4,2': pts42, '4,3': pts43, '4,5': pts45,
  '5,1': pts51, '5,2': pts52, '5,3': pts53, '5,4': pts54
};

// ---- layout ---------------------------------------------------------------
const N = varIndex.length;
const L = 65, T = 10, W = 935, H = 936;
const cw = W / N, ch = H / N;
const BAR = { left: 1097, top: 10, width: 57, height: 936 };
const FONT = '"Liberation Sans", Arial, Helvetica, sans-serif';
const AXIS_MIN = -0.04, AXIS_MAX = 1.04;

function bandColor(p) {
  for (let k = 0; k < bandColors.length; k++) {
    if (p <= breaks[k + 1]) return bandColors[k];
  }
  return bandColors[bandColors.length - 1];
}

function toPairs(flat) {
  const out = [];
  for (let k = 0; k + 1 < flat.length; k += 2) out.push([flat[k] / 100, flat[k + 1] / 100]);
  return out;
}

const labelStyle = { color: '#000', fontSize: 19, fontFamily: FONT };
const tickStyle = { color: '#000', width: 1 };
const noLine = { show: false, onZero: false };

const grid = [], xAxis = [], yAxis = [], series = [], graphic = [];

for (let i = 0; i < N; i++) {
  for (let j = 0; j < N; j++) {
    const idx = grid.length;
    const diag = i === j;
    const p = diag ? null : pValues[i][j];
    grid.push({
      left: L + j * cw, top: T + i * ch, width: cw, height: ch,
      show: !diag, backgroundColor: diag ? 'transparent' : bandColor(p), borderWidth: 0
    });

    const onBottom = i === N - 1 && j % 2 === 0;
    const onTop = i === 0 && j % 2 === 1;
    const onLeft = j === 0 && i % 2 === 1;
    const onRight = j === N - 1 && i % 2 === 0;

    xAxis.push({
      gridIndex: idx, type: 'value', min: AXIS_MIN, max: AXIS_MAX,
      show: onBottom || onTop, position: onTop ? 'top' : 'bottom', offset: 1.5,
      axisLine: noLine, splitLine: { show: false },
      axisTick: { show: true, inside: false, customValues: panelTicks, length: 10, lineStyle: tickStyle },
      axisLabel: Object.assign({ show: onBottom, customValues: bottomLabels, margin: 28,
        formatter: v => v.toFixed(1) }, labelStyle)
    });
    yAxis.push({
      gridIndex: idx, type: 'value', min: AXIS_MIN, max: AXIS_MAX,
      show: onLeft || onRight, position: onRight ? 'right' : 'left', offset: 1.5,
      axisLine: noLine, splitLine: { show: false },
      axisTick: { show: true, inside: false, customValues: panelTicks, length: 10, lineStyle: tickStyle },
      axisLabel: Object.assign({ show: true, customValues: sideLabels, margin: 24,
        formatter: v => v.toFixed(1) }, labelStyle)
    });

    if (!diag) {
      series.push({
        type: 'scatter', xAxisIndex: idx, yAxisIndex: idx,
        data: toPairs(panelPoints[(i + 1) + ',' + (j + 1)]),
        symbol: 'rect', symbolSize: 3.5, silent: true,
        itemStyle: { color: p < 0.01 ? '#ffffff' : '#000000' }
      });
    } else {
      graphic.push({
        type: 'text', x: L + j * cw + cw / 2, y: T + i * ch + ch / 2 + 4, z: 10,
        style: {
          text: '{a|\u00B7 |}{u|u}{s|' + varIndex[i] + '}',
          align: 'center', verticalAlign: 'middle',
          rich: {
            a: { fontSize: 38, lineHeight: 46, fontFamily: FONT, fill: '#000', verticalAlign: 'top' },
            u: { fontSize: 37, lineHeight: 46, fontFamily: FONT, fontStyle: 'italic', fill: '#000', verticalAlign: 'top' },
            s: { fontSize: 25, lineHeight: 28, fontFamily: FONT, fill: '#000', verticalAlign: 'bottom' }
          }
        }
      });
    }
  }
}

// ---- colour scale ---------------------------------------------------------
const barIdx = grid.length;
grid.push({ left: BAR.left, top: BAR.top, width: BAR.width, height: BAR.height, show: false });
xAxis.push({ gridIndex: barIdx, type: 'value', min: 0, max: 1, show: false, axisLine: noLine });

function scaleLabel(v) {
  const t = Math.pow(10, v);
  const e = Math.floor(v + 1e-9);
  const m = Math.round(t / Math.pow(10, e));
  const ex = '{e|\u2212' + (-e) + '}';
  return m === 1 ? '{b|10}' + ex : '{b|' + m + '\u2009\u00D7\u200910}' + ex;
}

yAxis.push({
  gridIndex: barIdx, type: 'value', min: -4, max: 0, position: 'right',
  axisLine: noLine, splitLine: { show: false },
  axisTick: { show: true, inside: false, customValues: scaleMajor.map(Math.log10), length: 14, lineStyle: tickStyle },
  axisLabel: {
    show: true, customValues: scaleMajor.map(Math.log10), margin: 26, formatter: scaleLabel,
    rich: {
      b: { fontSize: 19, lineHeight: 30, fontFamily: FONT, color: '#000', verticalAlign: 'bottom' },
      e: { fontSize: 14, lineHeight: 14, fontFamily: FONT, color: '#000', verticalAlign: 'top' }
    }
  }
});
yAxis.push({
  gridIndex: barIdx, type: 'value', min: -4, max: 0, position: 'right',
  axisLine: noLine, splitLine: { show: false },
  axisTick: { show: true, inside: false, customValues: scaleMinor.map(Math.log10), length: 8, lineStyle: tickStyle },
  axisLabel: { show: false }
});
const barY = yAxis.length - 2;

// colour classes
series.push({
  type: 'custom', xAxisIndex: barIdx, yAxisIndex: barY, silent: true, clip: false,
  data: bandColors.map((c, k) => [Math.log10(breaks[k]), Math.log10(breaks[k + 1]), k]),
  renderItem: (params, api) => {
    const lo = api.value(0), hi = api.value(1);
    const a = api.coord([0, hi]), b = api.coord([1, lo]);
    return {
      type: 'rect',
      shape: { x: a[0], y: a[1], width: b[0] - a[0], height: b[1] - a[1] },
      style: { fill: bandColors[api.value(2)], stroke: '#000', lineWidth: 1 }
    };
  }
});

// observed p-values as short ticks on the left edge of the scale
const observed = [];
pValues.forEach(row => row.forEach(p => { if (p !== null) observed.push([0, Math.log10(p)]); }));
series.push({
  type: 'custom', xAxisIndex: barIdx, yAxisIndex: barY, silent: true, clip: false,
  data: observed,
  renderItem: (params, api) => {
    const c = api.coord([0, api.value(1)]);
    return {
      type: 'line',
      shape: { x1: c[0] - 7, y1: c[1], x2: c[0], y2: c[1] },
      style: { stroke: '#000', lineWidth: 1 }
    };
  }
});

// frame around the matrix of panels
graphic.push({
  type: 'rect', z: 20, silent: true,
  shape: { x: L, y: T, width: W, height: H },
  style: { fill: 'none', stroke: '#000', lineWidth: 1 }
});

// legend title
graphic.push({
  type: 'text', x: 1284, y: BAR.top + BAR.height / 2, rotation: Math.PI / 2, z: 10,
  style: {
    text: 'pp\u2212value', fill: '#000', align: 'center', verticalAlign: 'middle',
    font: 'bold 36px ' + FONT
  }
});

const chart = echarts.init(document.getElementById('chart'), null, { renderer: 'canvas' });
chart.setOption({
  animation: false,
  backgroundColor: '#ffffff',
  grid, xAxis, yAxis, series, graphic
});
</script>
</body>
</html>
